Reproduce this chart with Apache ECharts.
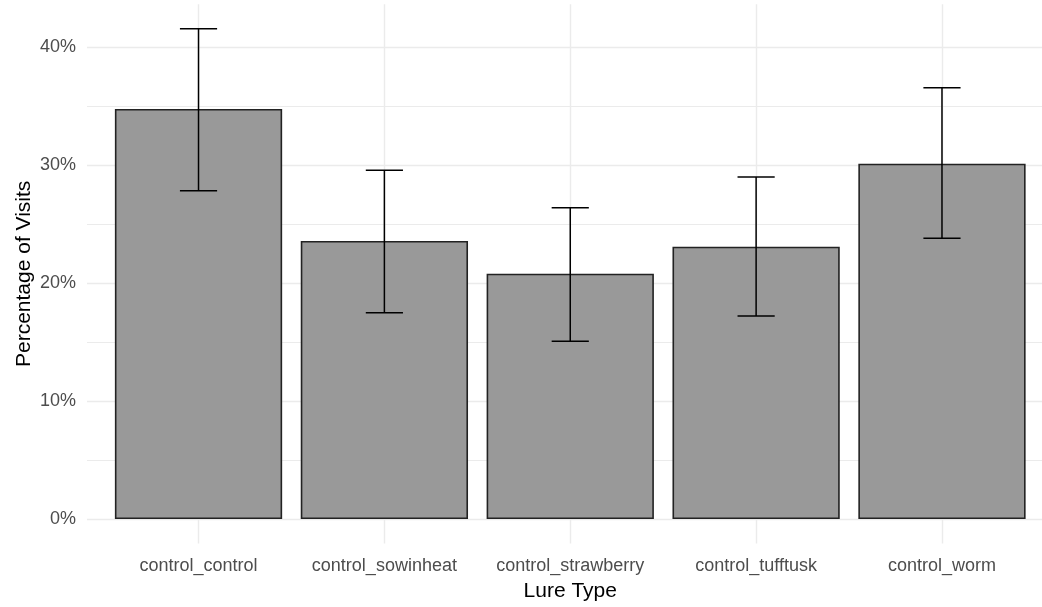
<!DOCTYPE html>
<html>
<head>
<meta charset="utf-8">
<script src="https://cdn.jsdelivr.net/npm/echarts@6/dist/echarts.min.js"></script>
<style>
html,body{margin:0;padding:0;background:#fff;}
#chart{width:1042px;height:607px;}
</style>
</head>
<body>
<div id="chart"></div>
<script>
// ---- data ----
const categories = ['control_control', 'control_sowinheat', 'control_strawberry', 'control_tufftusk', 'control_worm'];
const percentValues = [34.75, 23.56, 20.79, 23.08, 30.11];
const errorLow = [27.82, 17.48, 15.06, 17.20, 23.79];
const errorHigh = [41.55, 29.55, 26.38, 28.98, 36.55];
const yTickStep = 10;

// ---- layout / style ----
const W = 1042, H = 607;
const gridLeft = 87, gridWidth = 966.5, gridTop = 4.2, gridHeight = 539.3;
const xMin = -0.6, xMax = categories.length - 1 + 0.6;
const unitPx = gridWidth / (xMax - xMin);
const yTop = Math.max.apply(null, errorHigh);
const yMin = -0.05 * yTop, yMax = yTop * 1.05;
const font = 'Liberation Sans, Arial, sans-serif';

const chart = echarts.init(document.getElementById('chart'), null, {renderer: 'canvas'});

const barData = percentValues.map((v, i) => [i, v]);
const errData = errorLow.map((lo, i) => [i, lo, errorHigh[i]]);

chart.setOption({
  animation: false,
  backgroundColor: '#ffffff',
  grid: {left: gridLeft, width: gridWidth, top: gridTop, height: gridHeight, containLabel: false, outerBoundsMode: 'none'},
  xAxis: {
    type: 'value',
    min: xMin,
    max: xMax,
    splitNumber: 5,
    name: 'Lure Type',
    nameLocation: 'middle',
    nameGap: 37,
    nameMoveOverlap: false,
    nameTextStyle: {fontFamily: font, fontSize: 21, color: '#000000'},
    axisLine: {show: false},
    axisTick: {show: false},
    axisLabel: {
      margin: 14,
      fontFamily: font,
      fontSize: 18,
      color: '#4d4d4d',
      showMinLabel: false,
      showMaxLabel: false,
      formatter: function (v) {
        const r = Math.round(v);
        return (Math.abs(v - r) < 1e-6 && r >= 0 && r < categories.length) ? categories[r] : '';
      }
    },
    splitLine: {show: true, showMinLine: false, showMaxLine: false, lineStyle: {color: '#ebebeb', width: 1.4}}
  },
  yAxis: {
    type: 'value',
    min: yMin,
    max: yMax,
    splitNumber: 5,
    name: 'Percentage of Visits',
    nameLocation: 'middle',
    nameGap: 52,
    nameMoveOverlap: false,
    nameTextStyle: {fontFamily: font, fontSize: 21, color: '#000000'},
    axisLine: {show: false},
    axisTick: {show: false},
    minorTick: {show: false, splitNumber: 2},
    minorSplitLine: {show: true, lineStyle: {color: '#ebebeb', width: 1}},
    axisLabel: {
      margin: 11,
      fontFamily: font,
      fontSize: 18,
      color: '#4d4d4d',
      showMinLabel: false,
      showMaxLabel: false,
      formatter: function (v) {
        const r = Math.round(v / yTickStep) * yTickStep;
        return Math.abs(v - r) < 1e-6 ? r + '%' : '';
      }
    },
    splitLine: {show: true, showMinLine: false, showMaxLine: false, lineStyle: {color: '#ebebeb', width: 1.4}}
  },
  series: [
    {
      type: 'bar',
      data: barData,
      barWidth: 0.9 * unitPx,
      itemStyle: {color: '#999999', borderColor: '#222222', borderWidth: 1.6},
      silent: true
    },
    {
      type: 'custom',
      data: errData,
      encode: {x: 0, y: [1, 2]},
      renderItem: function (params, api) {
        const i = api.value(0);
        const lo = api.coord([i, api.value(1)]);
        const hi = api.coord([i, api.value(2)]);
        const hiL = api.coord([i - 0.1, api.value(2)]);
        const hiR = api.coord([i + 0.1, api.value(2)]);
        const loL = api.coord([i - 0.1, api.value(1)]);
        const loR = api.coord([i + 0.1, api.value(1)]);
        const st = {stroke: '#000000', lineWidth: 1.5, fill: null};
        return {
          type: 'group',
          children: [
            {type: 'line', shape: {x1: lo[0], y1: lo[1], x2: hi[0], y2: hi[1]}, style: st},
            {type: 'line', shape: {x1: hiL[0], y1: hiL[1], x2: hiR[0], y2: hiR[1]}, style: st},
            {type: 'line', shape: {x1: loL[0], y1: loL[1], x2: loR[0], y2: loR[1]}, style: st}
          ]
        };
      },
      z: 3,
      silent: true
    }
  ]
});
</script>
</body>
</html>
